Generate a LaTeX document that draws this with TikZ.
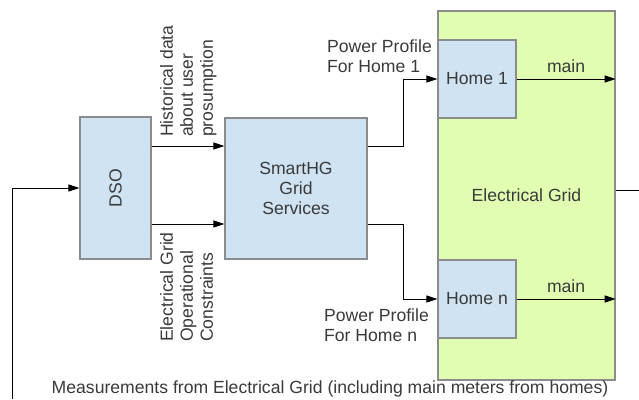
\documentclass[tikz,border=0pt]{standalone}
\usepackage{fontspec}
\setmainfont{Liberation Sans}
\usetikzlibrary{arrows.meta,positioning}
\definecolor{boxblue}{HTML}{CFE3F3}
\definecolor{gridgreen}{HTML}{E1FDB2}
\definecolor{edge}{HTML}{8C8C8C}
\definecolor{txt}{HTML}{3A3A3A}
\tikzset{
  blk/.style={
    rectangle, draw=edge, fill=boxblue, line width=1.2pt,
    text=txt, font=\fontsize{17.6}{20}\selectfont,
    align=center, inner sep=0pt
  },
  gridbox/.style={blk, fill=gridgreen},
  lbl/.style={text=txt, font=\fontsize{17.6}{20}\selectfont, inner sep=0pt},
  arr/.style={-{Triangle[length=11pt,width=7pt]}, line width=1pt, black},
  wire/.style={line width=1pt, black}
}
\begin{document}
\begin{tikzpicture}[x=1pt,y=-1pt]

% ── Canvas ────────────────────────────────────────────────────────
\useasboundingbox (0,0) rectangle (639,399);

% ── Grid and homes ────────────────────────────────────────────────
\node[gridbox, minimum width=177pt, minimum height=369pt] (grid) at (526.5,195.5)
  {Electrical Grid};
\node[blk, minimum width=78pt, minimum height=78pt] (home1) at (477,79) {Home 1};
\node[blk, minimum width=78pt, minimum height=78pt] (homen) at (477,299) {Home n};

% ── DSO and services ──────────────────────────────────────────────
\node[blk, minimum width=71pt, minimum height=142pt] (dso) at (115.5,188)
  {\rotatebox{90}{DSO}};
\node[blk, minimum width=142pt, minimum height=141pt] (smarthg) at (296,188.5)
  {SmartHG\\Grid\\Services};

% ── Flow arrows ────────────────────────────────────────────────────
\draw[arr] ([yshift=42pt]dso.east) -- ([yshift=42pt]dso.east -| smarthg.west);
\draw[arr] ([yshift=-36pt]dso.east) -- ([yshift=-36pt]dso.east -| smarthg.west);
\draw[arr] ([yshift=42pt]smarthg.east) -- ++(36,0) |- (home1.west);
\draw[arr] ([yshift=-36pt]smarthg.east) -- ++(36,0) |- (homen.west);
\draw[arr] (home1.east) -- (home1.east -| grid.east)
  node[lbl, midway, above=6pt] (main1) {main};
\draw[arr] (homen.east) -- (homen.east -| grid.east)
  node[lbl, midway, above=6pt] (mainn) {main};

% ── Measurement loop (runs off the page) ─────────────────────────
\coordinate (loopout) at (639,190);
\coordinate (loopin) at (12,399);
\draw[wire] (grid.east |- loopout) -- (loopout);
\draw[arr] (loopin) |- (dso.west);

% ── Labels ────────────────────────────────────────────────────────
\node[lbl, rotate=90, anchor=north west, align=left] (histlbl) at (160,137)
  {Historical data\\about user\\prosumption};
\node[lbl, rotate=90, anchor=north west, align=left] (conslbl) at (160,342)
  {Electrical Grid\\Operational\\Constraints};
\node[lbl, anchor=west, align=left] (prof1) at (327,56)
  {Power Profile\\For Home 1};
\node[lbl, anchor=west, align=left] (profn) at (324,325)
  {Power Profile\\For Home n};
\node[lbl] (meas) at (330,389)
  {Measurements from Electrical Grid (including main meters from homes)};

\end{tikzpicture}
\end{document}
